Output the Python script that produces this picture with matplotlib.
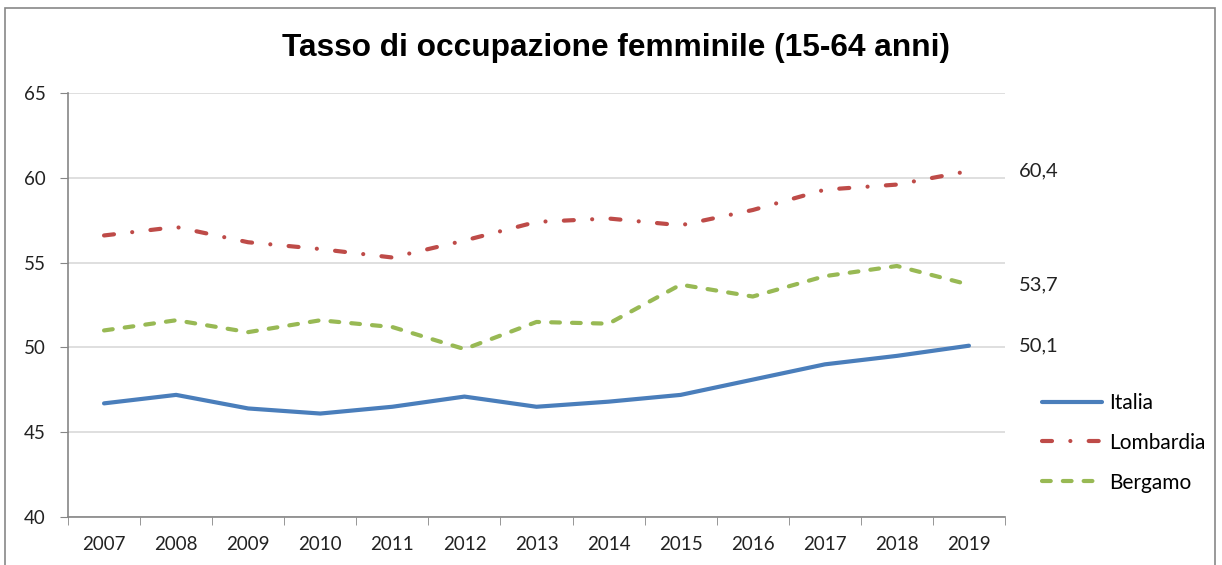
import numpy as np
import matplotlib.pyplot as plt
from matplotlib.patches import Rectangle

years = ['2007', '2008', '2009', '2010', '2011', '2012', '2013',
         '2014', '2015', '2016', '2017', '2018', '2019']
italia = [46.7, 47.2, 46.4, 46.1, 46.5, 47.1, 46.5, 46.8, 47.2, 48.1, 49.0, 49.5, 50.1]
lombardia = [56.6, 57.1, 56.2, 55.8, 55.3, 56.3, 57.4, 57.6, 57.2, 58.1, 59.3, 59.6, 60.4]
bergamo = [51.0, 51.6, 50.9, 51.6, 51.2, 49.9, 51.5, 51.4, 53.7, 53.0, 54.2, 54.8, 53.7]

TITLE = 'Tasso di occupazione femminile (15-64 anni)'
FONT = ['Lato', 'DejaVu Sans']

fig = plt.figure(figsize=(12.22, 5.65), dpi=100)
ax = fig.add_axes([68/1222, 1 - 517/565, (1005 - 68)/1222, (517 - 93)/565])

x = np.arange(len(years))
ax.plot(x, italia, color='#4A7EBB', lw=3, solid_capstyle='round', label='Italia')
ax.plot(x, lombardia, color='#BE4B48', lw=3, dash_capstyle='round',
        dashes=(2.4, 4.4, 0.01, 4.4), label='Lombardia')
ax.plot(x, bergamo, color='#98B954', lw=3, dash_capstyle='round',
        dashes=(2.1, 2.9), label='Bergamo')

# data labels on the last point
for series in (italia, lombardia, bergamo):
    ax.annotate(f'{series[-1]:.1f}'.replace('.', ','), (x[-1], series[-1]),
                xytext=(36, 0), textcoords='offset points', va='center',
                fontsize=14.5, family=FONT, color='#222222', annotation_clip=False)

ax.set_xlim(-0.5, len(years) - 0.5)
ax.set_ylim(40, 65)
ax.set_yticks(range(40, 66, 5))
ax.set_xticks(x)
ax.set_xticklabels(years)
ax.set_xticks(np.arange(-0.5, len(years), 1), minor=True)
ax.tick_params(axis='x', which='major', length=0, pad=14)
ax.tick_params(axis='x', which='minor', length=6, color='#868686')
ax.tick_params(axis='y', length=6, color='#868686', pad=10)
for lab in ax.get_xticklabels() + ax.get_yticklabels():
    lab.set_family(FONT)
    lab.set_fontsize(13.5)
    lab.set_color('#222222')

ax.grid(axis='y', color='#D9D9D9', lw=1.2)
ax.set_axisbelow(True)
for side in ('top', 'right'):
    ax.spines[side].set_visible(False)
for side in ('left', 'bottom'):
    ax.spines[side].set_color('#868686')
    ax.spines[side].set_linewidth(1.2)

fig.text(616/1222, 1 - 48/565, TITLE, ha='center', va='center', fontsize=22.8,
         fontweight='bold', family=['Liberation Sans', 'DejaVu Sans'])

fig.legend(loc='upper left', bbox_to_anchor=(1042/1222, 1 - 393/565), frameon=False,
           prop={'family': FONT, 'size': 15}, handlelength=2.9, handletextpad=0.33,
           labelspacing=0.95, borderaxespad=0, borderpad=0)

# chart area border
fig.patches.append(Rectangle((5/1222, -0.05), 1210/1222, 1.05 - 8/565,
                             transform=fig.transFigure, fill=False,
                             edgecolor='#878787', lw=1.2))

fig.savefig('out.png', dpi=100)
